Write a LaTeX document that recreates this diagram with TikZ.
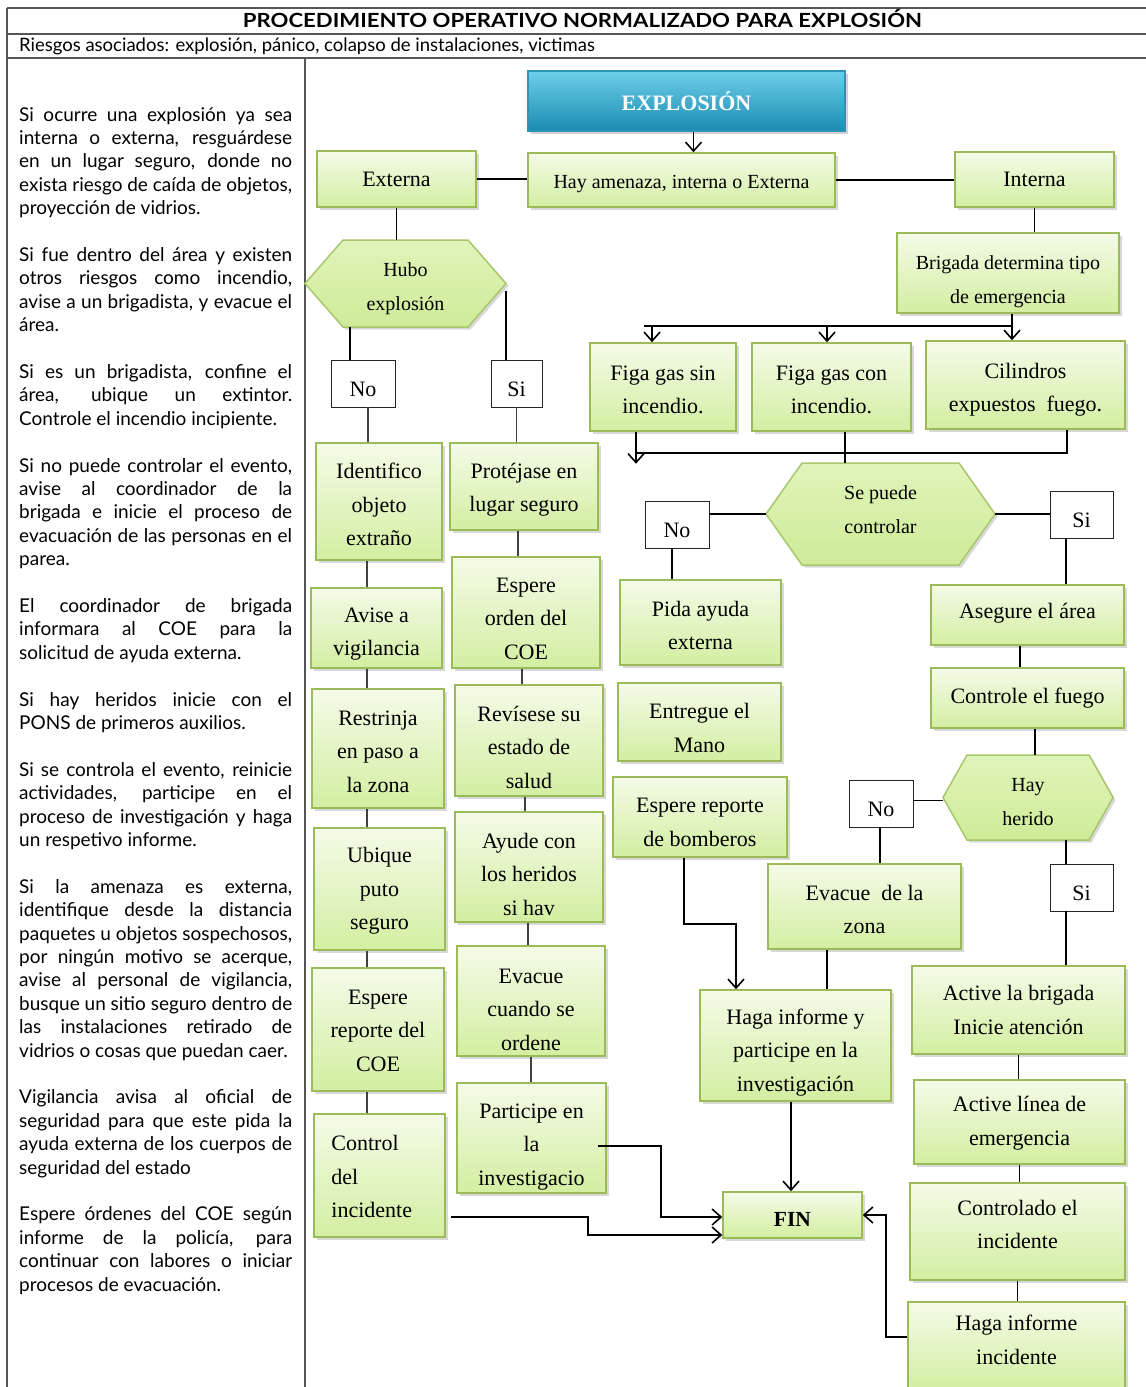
\documentclass[tikz,border=0pt]{standalone}
\usepackage{graphicx}
\usepackage{fontspec}
\setmainfont{Liberation Serif}
\newfontfamily\gill{Lato}
\usetikzlibrary{arrows.meta,shadows,calc}
\definecolor{gborder}{HTML}{9BBB59}
\definecolor{gtop}{HTML}{F4FBE8}
\definecolor{gbot}{HTML}{D3EEA1}
\definecolor{htop}{HTML}{E0F4BA}
\definecolor{hbot}{HTML}{CFEB98}
\definecolor{hborder}{HTML}{A8C76C}
\definecolor{btop}{HTML}{6CCFE9}
\definecolor{bbot}{HTML}{1B8BB2}
\definecolor{bborder}{HTML}{2F93B5}
\definecolor{frameln}{HTML}{555555}
\newlength\mw
\newcommand\jline[1]{\settowidth\mw{#1}\ifdim\mw>\linewidth\resizebox{\linewidth}{\height}{#1}\else\makebox[\linewidth][s]{#1}\fi\par}
\newcommand\eline[1]{#1\par}
\newcommand\pgap{\vspace{\baselineskip}}
% [shift down]{name}{cx}{cy}{w}{h}{text}
\newcommand\gnode[7][3]{\node[gbox, minimum width=#5pt, minimum height=#6pt] (#2) at (#3,#4) {};
  \node[gtext] (#2t) at ([yshift=-#1pt]#2.center) {#7};}
\newcommand\hexpath[5]{\path[hexst] (#1,{(#3+#4)/2}) -- ({#1+#5},#3) -- ({#2-#5},#3) -- (#2,{(#3+#4)/2}) -- ({#2-#5},#4) -- ({#1+#5},#4) -- cycle;}
\tikzset{
 gbox/.style={draw=gborder, line width=1.5pt, top color=gtop, bottom color=gbot,
   drop shadow={shadow xshift=2.5pt,shadow yshift=-2.5pt,opacity=0.3}, inner sep=0pt},
 gtext/.style={align=center, inner sep=0pt, font=\fontsize{22}{33.5}\selectfont},
 lbl/.style={draw=black!85, line width=0.9pt, fill=white, inner sep=0pt,
   text height=25pt, text depth=0pt, font=\fontsize{22}{26}\selectfont},
 hexst/.style={draw=hborder, line width=1.5pt, top color=htop, bottom color=hbot,
   drop shadow={shadow xshift=2.5pt,shadow yshift=-2.5pt,opacity=0.3}},
 hexbox/.style={inner sep=0pt},
 hext/.style={inner sep=0pt, align=center, font=\fontsize{20}{34}\selectfont},
 conn/.style={draw=black, line width=1.6pt},
 thinconn/.style={draw=black!75, line width=1.2pt},
 arr/.style={conn, -{Straight Barb[length=9pt,width=16pt]}},
 frameline/.style={draw=frameln, line width=1.2pt},
}
\begin{document}
\begin{tikzpicture}[x=1pt,y=-1pt]
\fill[white] (0,0) rectangle (1146,1387);
\useasboundingbox (0,0) rectangle (1146,1387);
% frame
\draw[frameline] (7,8) -- (1146,8);
\draw[frameline] (7,34) -- (1146,34);
\draw[frameline] (7,58) -- (1146,58);
\draw[frameline] (7,8) -- (7,1387);
\draw[frameline] (305,58) -- (305,1387);
\node[anchor=base, inner sep=0pt] (title) at (582.5,27) {\resizebox{679pt}{\height}{\gill\bfseries\fontsize{19.5}{20}\selectfont PROCEDIMIENTO OPERATIVO NORMALIZADO PARA EXPLOSIÓN}};
\node[anchor=base west, inner sep=0pt, font=\gill\fontsize{18.5}{20}\selectfont] (sub) at (19,51) {Riesgos asociados: explosión, pánico, colapso de instalaciones, victimas};
% left text
\node[anchor=base west, inner sep=0pt] (ltext) at (19,121) {\parbox[t]{273pt}{\gill\fontsize{19}{23.4}\selectfont
\jline{Si ocurre una explosión ya sea}
\jline{interna o externa, resguárdese}
\jline{en un lugar seguro, donde no}
\jline{exista riesgo de caída de objetos,}
\eline{proyección de vidrios.}
\pgap
\jline{Si fue dentro del área y existen}
\jline{otros riesgos como incendio,}
\jline{avise a un brigadista, y evacue el}
\eline{área.}
\pgap
\jline{Si es un brigadista, confine el}
\jline{área, ubique un extintor.}
\eline{Controle el incendio incipiente.}
\pgap
\jline{Si no puede controlar el evento,}
\jline{avise al coordinador de la}
\jline{brigada e inicie el proceso de}
\jline{evacuación de las personas en el}
\eline{parea.}
\pgap
\jline{El coordinador de brigada}
\jline{informara al COE para la}
\eline{solicitud de ayuda externa.}
\pgap
\jline{Si hay heridos inicie con el}
\eline{PONS de primeros auxilios.}
\pgap
\jline{Si se controla el evento, reinicie}
\jline{actividades, participe en el}
\jline{proceso de investigación y haga}
\eline{un respetivo informe.}
\pgap
\jline{Si la amenaza es externa,}
\jline{identifique desde la distancia}
\jline{paquetes u objetos sospechosos,}
\jline{por ningún motivo se acerque,}
\jline{avise al personal de vigilancia,}
\jline{busque un sitio seguro dentro de}
\jline{las instalaciones retirado de}
\eline{vidrios o cosas que puedan caer.}
\pgap
\jline{Vigilancia avisa al oficial de}
\jline{seguridad para que este pida la}
\jline{ayuda externa de los cuerpos de}
\eline{seguridad del estado}
\pgap
\jline{Espere órdenes del COE según}
\jline{informe de la policía, para}
\jline{continuar con labores o iniciar}
\eline{procesos de evacuación.}
}};
% ---------- flow boxes
\node[draw=bborder, line width=1.2pt, top color=btop, bottom color=bbot,
  drop shadow={shadow xshift=2.5pt,shadow yshift=-2.5pt,opacity=0.35},
  minimum width=317pt, minimum height=60pt, text=white,
  font=\bfseries\fontsize{22}{26}\selectfont] (exp) at (686.5,101) {EXPLOSIÓN};
\node[gbox, minimum width=307pt, minimum height=54pt] (hay) at (681.5,180) {};
\node[gtext, font=\fontsize{20}{24}\selectfont] (hayt) at ([yshift=-4pt]hay.center) {Hay amenaza, interna o Externa};
\gnode[0]{ext}{396.5}{179}{159}{56}{Externa}
\gnode[0]{int}{1034.5}{179.5}{159}{55}{Interna}
\node[gbox, minimum width=222pt, minimum height=80pt] (brig) at (1008,273) {};
\node[hext] (brigt) at ([yshift=-9pt]brig.center) {Brigada determina tipo\\de emergencia};
% hexagons
\hexpath{305}{506}{240}{327}{38}
\node[hexbox, minimum width=201pt, minimum height=87pt] (hubo) at (405.5,283.5) {};
\node[hext] (hubot) at ([yshift=-5pt]hubo.center) {Hubo\\explosión};
\hexpath{766}{995}{463}{565}{36}
\node[hexbox, minimum width=229pt, minimum height=102pt] (spc) at (880.5,514) {};
\node[hext] (spct) at ([yshift=4pt]spc.center) {Se puede\\controlar};
\hexpath{943}{1113}{755}{840}{24}
\node[hexbox, minimum width=170pt, minimum height=85pt] (hh) at (1028,797.5) {};
\node[hext] (hht) at ([yshift=-5pt]hh.center) {Hay\\herido};
% labels
\node[lbl, minimum width=64pt, minimum height=47pt] (noA) at (363,383.5) {No};
\node[lbl, minimum width=51pt, minimum height=47pt] (siA) at (516.5,383.5) {Si};
\node[lbl, minimum width=64pt, minimum height=47pt] (noB) at (677,524.5) {No};
\node[lbl, minimum width=63pt, minimum height=47pt] (siB) at (1081.5,514.5) {Si};
\node[lbl, minimum width=64pt, minimum height=47pt] (noC) at (881,803.5) {No};
\node[lbl, minimum width=63pt, minimum height=47pt] (siC) at (1081.5,887.5) {Si};
% left column
\gnode[3]{idf}{379}{501.5}{126}{117}{Identifico\\objeto\\extraño}
\gnode[6]{avi}{376.5}{628}{131}{80}{Avise a\\vigilancia}
\gnode[3]{res}{378}{748.5}{132}{119}{Restrinja\\en paso a\\la zona}
\gnode[2]{ubi}{379.5}{889}{131}{122}{Ubique\\puto\\seguro}
\gnode[1]{esc}{378}{1029.5}{132}{123}{Espere\\reporte del\\COE}
\node[gbox, minimum width=131pt, minimum height=123pt] (ctl) at (379.5,1175.5) {};
\node[gtext, align=left, anchor=west] (ctlt) at ([xshift=18pt,yshift=-1pt]ctl.west) {Control\\del\\incidente};
% second column
\gnode[3]{pro}{524}{486.5}{148}{87}{Protéjase en\\lugar seguro}
\gnode[6]{eor}{526}{612.5}{148}{111}{Espere\\orden del\\COE}
\gnode[6.5]{rev}{529}{740.5}{148}{111}{Revísese su\\estado de\\salud}
\gnode[7]{ayu}{529}{867}{148}{110}{Ayude con\\los heridos\\si hav}
\gnode[8.5]{evc}{531}{1001}{148}{110}{Evacue\\cuando se\\ordene}
\gnode[9]{par}{531.5}{1138}{149}{110}{Participe en\\la\\investigacio}
% middle
\gnode[3]{fsin}{663}{387}{146}{88}{Figa gas sin\\incendio.}
\gnode[3]{fcon}{831.5}{387}{159}{88}{Figa gas con\\incendio.}
\gnode[4.5]{cil}{1025.5}{385}{199}{88}{Cilindros\\expuestos\ \ fuego.}
\gnode[3]{pid}{700.5}{622.5}{161}{85}{Pida ayuda\\externa}
\gnode[6]{ent}{699.5}{722}{163}{78}{Entregue el\\Mano}
\gnode[5.5]{ebo}{700}{817}{174}{80}{Espere reporte\\de bomberos}
\gnode[-2]{ase}{1027.5}{615}{193}{60}{Asegure el área}
\gnode[0]{cfu}{1027.5}{698}{193}{60}{Controle el fuego}
\gnode[3]{evz}{864.5}{906.5}{193}{85}{Evacue\ \ de la\\zona}
\gnode[7]{hag}{795.5}{1045.5}{191}{111}{Haga informe y\\participe en la\\investigación}
\node[gbox, minimum width=139pt, minimum height=46pt] (fin) at (792.5,1215) {};
\node[gtext, font=\bfseries\fontsize{21.5}{26}\selectfont] (fint) at ([yshift=-4pt]fin.center) {FIN};
\gnode[0]{act}{1018.5}{1010}{213}{88}{Active la brigada\\Inicie atención}
\gnode[1]{lin}{1019.5}{1122}{211}{84}{Active línea de\\emergencia}
\gnode[-7]{cin}{1017.5}{1231.5}{215}{97}{Controlado el\\incidente}
\gnode[-6]{hin}{1016.5}{1346}{217}{88}{Haga informe\\incidente}
% ---------- connectors
\draw[arr] ([xshift=7pt]exp.south) -- ([xshift=7pt]exp.south |- hay.north);
\draw[conn] (ext.east) -- (ext.east -| hay.west);
\draw[conn] (hay.east) -- (hay.east -| int.west);
\draw[conn] (ext.south) -- (ext.south |- hubo.north);
\draw[conn] ([xshift=-13pt]noA.north) -- ([xshift=-13pt]noA.north |- hubo.south);
\draw[conn] ([yshift=-7pt]hubo.east) -- (hubo.east |- siA.north);
\draw[thinconn] ([xshift=5pt]noA.south) -- ([xshift=5pt]noA.south |- idf.north);
\draw[thinconn] (siA.south) -- (siA.south |- pro.north);
\coordinate (lcx) at (367,0);
\draw[thinconn] (idf.south -| lcx) -- (avi.north -| lcx);
\draw[thinconn] (avi.south -| lcx) -- (res.north -| lcx);
\draw[thinconn] (res.south -| lcx) -- (ubi.north -| lcx);
\draw[thinconn] (ubi.south -| lcx) -- (esc.north -| lcx);
\draw[thinconn] (esc.south -| lcx) -- (ctl.north -| lcx);
\draw[thinconn] ([xshift=-6pt]pro.south) -- ([xshift=-6pt]pro.south |- eor.north);
\draw[thinconn] ([xshift=-4pt]eor.south) -- ([xshift=-4pt]eor.south |- rev.north);
\draw[thinconn] ([xshift=-4pt]rev.south) -- ([xshift=-4pt]rev.south |- ayu.north);
\draw[thinconn] ([xshift=-1pt]ayu.south) -- ([xshift=-1pt]ayu.south |- evc.north);
\draw[thinconn] (evc.south) -- (evc.south |- par.north);
\draw[conn] (int.south) -- (int.south |- brig.north);
\coordinate (spR) at (1012,326);
\coordinate (spL) at (644,326);
\draw[conn] ([xshift=4pt]brig.south) -- (spR);
\draw[arr] (spR) -- (spR |- cil.north);
\draw[conn] (spL) -- (spR);
\draw[arr] ([xshift=-11pt]fsin.north |- spL) -- ([xshift=-11pt]fsin.north);
\draw[arr] ([xshift=-4.5pt]fcon.north |- spL) -- ([xshift=-4.5pt]fcon.north);
\coordinate (mgL) at (636,453);
\draw[arr] ([xshift=-27pt]fsin.south) -- ++(0,32);
\draw[conn] ([xshift=41.5pt]cil.south) |- (mgL);
\draw[conn] ([xshift=13.5pt]fcon.south) -- ([xshift=13.5pt]fcon.south |- spc.north);
\draw[conn] (spc.west) -- (spc.west -| noB.east);
\draw[conn] ([xshift=-5pt]noB.south) -- ([xshift=-5pt]noB.south |- pid.north);
\draw[conn] (spc.east) -- (spc.east -| siB.west);
\draw[conn] ([xshift=-15.5pt]siB.south) -- ([xshift=-15.5pt]siB.south |- ase.north);
\draw[conn] ([xshift=-7.5pt]ase.south) -- ([xshift=-7.5pt]ase.south |- cfu.north);
\draw[conn] ([xshift=7.5pt]cfu.south) -- ([xshift=7.5pt]cfu.south |- hh.north);
\draw[conn] ([yshift=-3pt]hh.west) -- ([yshift=-3pt]hh.west -| noC.east);
\draw[conn] ([xshift=-1pt]noC.south) -- ([xshift=-1pt]noC.south |- evz.north);
\draw[conn] ([xshift=-15.5pt]siC.north) -- ([xshift=-15.5pt]siC.north |- hh.south);
\draw[conn] ([xshift=-15.5pt]siC.south) -- ([xshift=-15.5pt]siC.south |- act.north);
\draw[conn] (act.south) -- (act.south |- lin.north);
\draw[conn] (lin.south) -- (lin.south |- cin.north);
\draw[conn] (cin.south) -- (cin.south |- hin.north);
\draw[arr] ([yshift=9pt]hin.west) -- ++(-21,0) |- (fin.east);
\draw[arr] ([xshift=-16pt]ebo.south) -- ++(0,66) -| ([xshift=-59.5pt]hag.north);
\draw[conn] ([xshift=-37.5pt]evz.south) -- ([xshift=-37.5pt]evz.south |- hag.north);
\draw[arr] ([xshift=-4.5pt]hag.south) -- ([xshift=-4.5pt]hag.south |- fin.north);
\draw[arr] ([xshift=-9pt,yshift=-8pt]par.east) -- ++(63,0) |- ([yshift=-2pt]fin.west);
\draw[arr] ([xshift=5pt,yshift=-41.5pt]ctl.east) -- ++(137,0) |- ([yshift=-20pt]fin.west);
\end{tikzpicture}
\end{document}
